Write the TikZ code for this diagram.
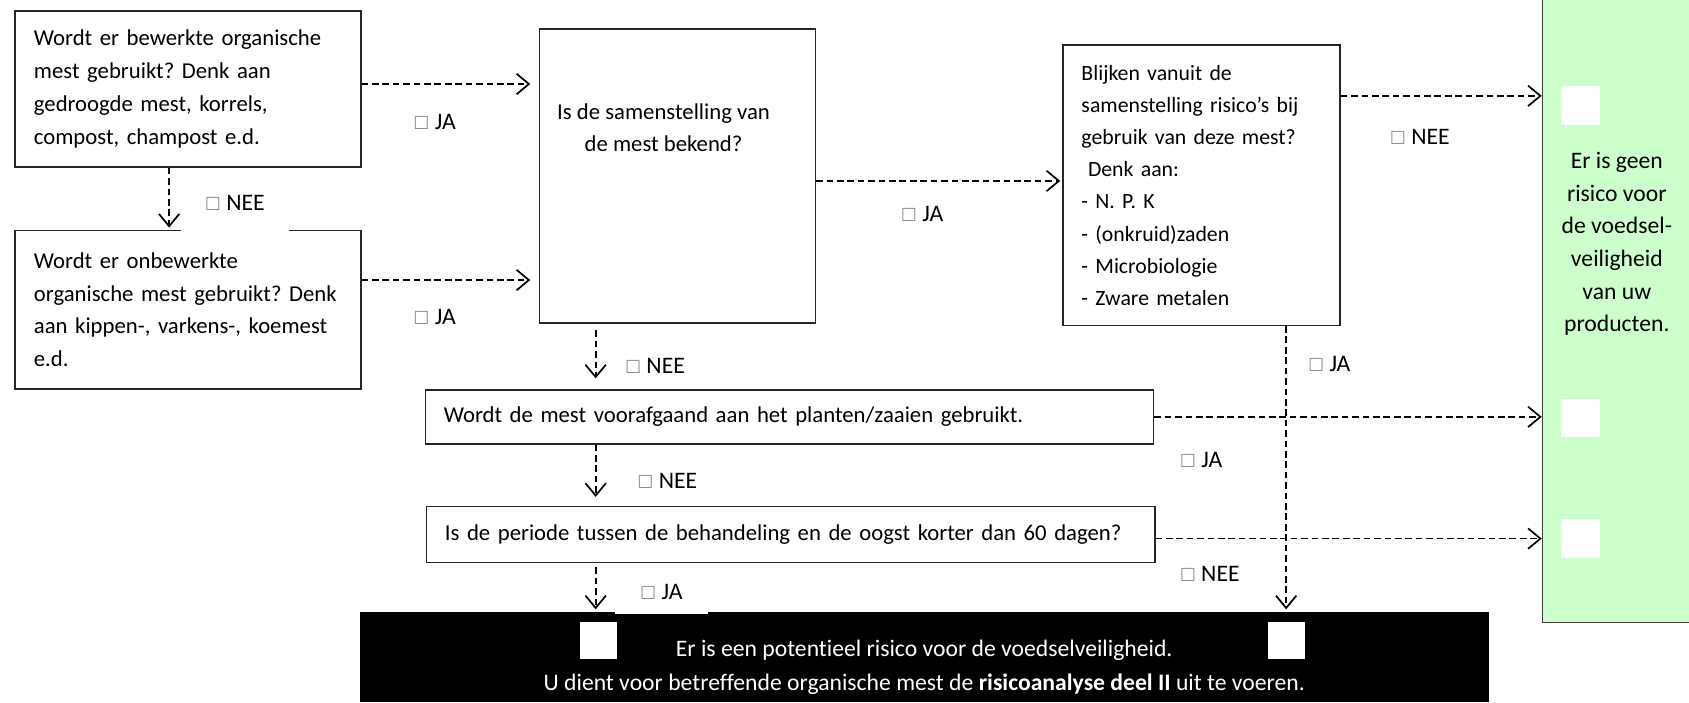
\documentclass[tikz,border=0pt]{standalone}
\usepackage{fontspec}
\setmainfont{Carlito}[Ligatures=NoCommon]
\newfontfamily\vakfont{DejaVu Sans}
\usetikzlibrary{arrows.meta}

\definecolor{lichtgroen}{HTML}{CCFFCC}
\newcommand{\vakje}{{\vakfont\fontsize{9.5}{9.5}\selectfont\color{black!45}☐}}

\begin{document}
\frenchspacing
\begin{tikzpicture}[x=0.2mm, y=-0.2mm,
  font=\fontsize{12}{17.3}\selectfont\frenchspacing,
  vraag/.style={draw=black!85, line width=0.8pt, rectangle, inner xsep=3.5mm, align=left},
  pijl/.style={line width=0.9pt, dash pattern=on 3.5pt off 2pt, -{Straight Barb[length=2.3mm,width=3.8mm]}},
  antw/.style={inner sep=1pt, font=\fontsize{12.5}{14}\selectfont},
  wit/.style={fill=white, minimum width=6.8mm, minimum height=6.8mm, inner sep=0pt}]
  \useasboundingbox (0,0) rectangle (1568,652);

  % vragen
  \node[vraag, minimum width=64.2mm, minimum height=29mm, text width=57.2mm] (bew) at (174.5,82.5)
    {Wordt er bewerkte organische\\mest gebruikt? Denk aan\\gedroogde mest, korrels,\\compost, champost e.d.};
  \node[vraag, minimum width=64.2mm, minimum height=29.4mm, text width=57.2mm] (onb) at (174.5,287.5)
    {Wordt er onbewerkte\\organische mest gebruikt? Denk\\aan kippen-, varkens-, koemest\\e.d.};
  \node[vraag, minimum width=51.2mm, minimum height=54.6mm,
    label={[anchor=north, align=center, xshift=-2.6mm, yshift=-12.7mm]north:Is de samenstelling van\\de mest bekend?}] (bek) at (629,163.5) {};
  \node[vraag, minimum width=51.4mm, minimum height=52mm, inner xsep=3.4mm, text width=44.6mm,
    font=\fontsize{11.5}{17}\selectfont\frenchspacing] (ris) at (1115.5,172)
    {Blijken vanuit de\\samenstelling risico’s bij\\gebruik van deze mest?\\\hspace*{0.3em}Denk aan:\\- N. P. K\\- (onkruid)zaden\\- Microbiologie\\- Zware metalen};
  \node[vraag, minimum width=135.2mm, minimum height=10mm, inner xsep=3.4mm, text width=128.4mm] (voor) at (733,387)
    {Wordt de mest voorafgaand aan het planten/zaaien gebruikt.};
  \node[vraag, minimum width=135.2mm, minimum height=10.4mm, inner xsep=3.4mm, text width=128.4mm] (per) at (734,496)
    {Is de periode tussen de behandeling en de oogst korter dan 60 dagen?};

  % uitkomsten
  \node[fill=black, minimum width=209.6mm, minimum height=16.8mm, inner sep=0pt,
    label={[text=white, align=center, yshift=-1.9mm, font=\fontsize{12.5}{17.5}\selectfont]center:Er is een potentieel risico voor de voedselveiligheid.\\U dient voor betreffende organische mest de \textbf{risicoanalyse deel II} uit te voeren.}] (pot) at (858,610) {};
  \node[wit] (vak1) at (555.5,594.5) {};
  \node[wit] (vak2) at (1194.5,594.5) {};
  \node[draw=black!75, fill=lichtgroen, line width=0.8pt, minimum width=28.6mm, minimum height=116.6mm,
    label={[align=center, xshift=-0.5mm, yshift=12mm, font=\fontsize{12.5}{17.2}\selectfont]center:Er is geen\\risico voor\\de voedsel-\\veiligheid\\van uw\\producten.}] (geen) at (1503.5,286.5) {};
  \node[wit, minimum width=7.2mm, minimum height=7.2mm] (vak3) at (1467,98) {};
  \node[wit, minimum width=7.2mm, minimum height=7.2mm] (vak4) at (1467,388) {};
  \node[wit, minimum width=7.2mm, minimum height=7.2mm] (vak5) at (1467,500) {};

  % pijlen
  \draw[pijl, shorten >=1.6mm] ([yshift=0.9mm]bew.east) -- ([yshift=0.9mm]bew.east -| bek.west);
  \draw[pijl, shorten >=1.6mm] ([yshift=5.5mm]onb.east) -- ([yshift=5.5mm]onb.east -| bek.west);
  \draw[pijl, shorten >=0.4mm] ([xshift=-3.5mm]bew.south) -- ([xshift=-3.5mm]bew.south |- onb.north);
  \draw[pijl, shorten >=0.4mm] ([yshift=-0.9mm]bek.east) -- ([yshift=-0.9mm]bek.east -| ris.west);
  \draw[pijl] ([yshift=16.6mm]ris.east) -- ([yshift=16.6mm]ris.east -| geen.west);
  \draw[pijl, shorten >=0.4mm] ([xshift=15.7mm]ris.south) -- ([xshift=15.7mm]ris.south |- pot.north);
  \draw[pijl, shorten <=1.2mm, shorten >=2mm] ([xshift=-15.2mm]bek.south) -- ([xshift=-15.2mm]bek.south |- voor.north);
  \draw[pijl] (voor.east) -- (voor.east -| geen.west);
  \draw[pijl, shorten >=1.6mm] ([xshift=-36mm]voor.south) -- ([xshift=-36mm]voor.south |- per.north);
  \draw[pijl] ([yshift=-0.8mm]per.east) -- ([yshift=-0.8mm]per.east -| geen.west);
  \draw[pijl, shorten <=0.8mm, shorten >=0.4mm] ([xshift=-36.2mm]per.south) -- ([xshift=-36.2mm]per.south |- pot.north);

  % antwoorden
  \node[antw] (ja1) at (403.5,113) {\vakje\ JA};
  \node[antw, fill=white, minimum width=20mm, minimum height=11.2mm] (nee1) at (218,188) {\vakje\ NEE};
  \node[antw] (ja2) at (403.5,294) {\vakje\ JA};
  \node[antw] (ja3) at (856,199) {\vakje\ JA};
  \node[antw] (nee2) at (1318,127) {\vakje\ NEE};
  \node[antw] (ja4) at (1234,338) {\vakje\ JA};
  \node[antw] (nee3) at (608,340) {\vakje\ NEE};
  \node[antw] (ja5) at (1115,427) {\vakje\ JA};
  \node[antw] (nee4) at (619.5,446) {\vakje\ NEE};
  \node[antw] (nee5) at (1123,533) {\vakje\ NEE};
  \node[antw, fill=white, minimum width=17.4mm, minimum height=8mm] (ja6) at (614,550) {\vakje\ JA};
\end{tikzpicture}
\end{document}
